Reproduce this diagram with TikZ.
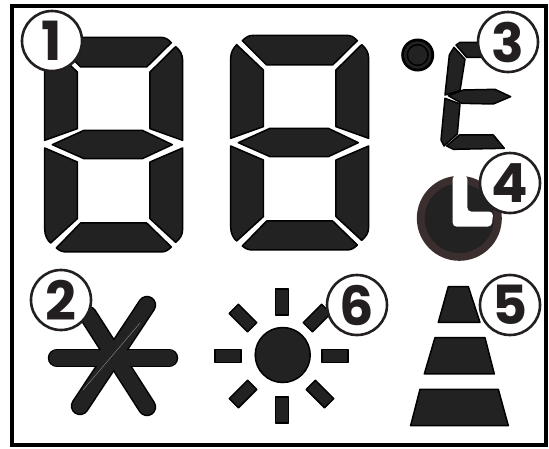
\documentclass[tikz,border=0pt]{standalone}
\usepackage{fontspec}
\setmainfont{Poppins}
\definecolor{segfill}{HTML}{222222}
\definecolor{ringc}{HTML}{231F20}
\definecolor{clockring}{HTML}{3A2E2E}
\tikzset{
  seg/.style={fill=segfill,draw=black,line width=1.5pt,line join=round},
  callout/.style={circle,fill=white,draw=ringc,line width=2.6pt,minimum size=60pt,inner sep=0pt,font=\fontsize{54}{54}\selectfont\bfseries,text=ringc},
  frame/.style={draw=black,line width=4pt},
  zoomed/.style={x=0.3333pt,y=-0.3333pt}
}
\newcommand{\digitsegs}{
  \draw[seg] (97,62) .. controls (108,52) and (115,46) .. (130,46) -- (410,46) .. controls (425,46) and (432,52) .. (442,62) -- (368,135) -- (170,135) -- cycle;
  \draw[seg] (62,355) -- (62,115) .. controls (62,98) and (70,84) .. (80,74) -- (160,150) -- (160,320) -- cycle;
  \draw[seg] (476,355) -- (378,320) -- (378,150) -- (455,74) .. controls (468,84) and (476,98) .. (476,115) -- cycle;
  \draw[seg] (85,368) -- (180,325) -- (355,325) -- (445,368) -- (355,410) -- (180,410) -- cycle;
  \draw[seg] (62,378) -- (160,420) -- (160,590) -- (80,663) .. controls (70,655) and (62,640) .. (62,620) -- cycle;
  \draw[seg] (476,378) -- (378,420) -- (378,590) -- (455,661) .. controls (468,650) and (476,640) .. (476,620) -- cycle;
  \draw[seg] (97,678) -- (170,603) -- (368,603) -- (442,675) .. controls (432,685) and (425,690) .. (410,690) -- (130,690) .. controls (115,690) and (108,687) .. (97,678) -- cycle;
}
\begin{document}
\begin{tikzpicture}[x=1pt,y=-1pt]
\useasboundingbox (0,0) rectangle (549,448);
\fill[white] (0,0) rectangle (549,448);
\draw[frame] (12,5.5) rectangle (546,445);
% digits
\begin{scope}[shift={(24,22)},zoomed]\digitsegs\end{scope}
\begin{scope}[shift={(210,20)},zoomed]\digitsegs\end{scope}
% degree
\fill[black] (417.7,55) circle (16.5);
\draw[segfill,line width=2.5pt] (417.7,55) circle (12.5);
\fill[segfill] (417.7,55) circle (9.5);
% E
\begin{scope}[shift={(380,0)},zoomed]
  \draw[seg] (228,135) -- (240,127) -- (310,127) -- (310,172) -- (260,172) -- cycle;
  \draw[seg] (222,142) -- (255,178) -- (240,272) -- (195,285) -- (208,165) -- cycle;
  \draw[seg] (195,295) -- (240,312) -- (232,402) -- (192,438) -- (183,420) -- cycle;
  \draw[seg] (205,287) -- (250,270) -- (345,268) -- (392,290) -- (340,312) -- (245,310) -- cycle;
  \draw[seg] (200,438) -- (238,405) -- (340,405) -- (373,445) -- (220,448) -- cycle;
  % clock
  \fill[clockring] (238,655) circle (127.5);
  \fill[segfill] (238,655) circle (104);
  \fill[white,rounded corners=4pt] (218,525) -- (262,525) -- (262,635) -- (340,635) -- (335,680) -- (218,680) -- cycle;
\end{scope}
% asterisk
\foreach \a/\b/\c/\d in {57/358/169/358,80/406/147/305,147/407/88/315}{
  \draw[black,line width=18.5pt,line cap=round] (\a,\b) -- (\c,\d);
}
\foreach \a/\b/\c/\d in {57/358/169/358,80/406/147/305,147/407/88/315}{
  \draw[segfill,line width=15.5pt,line cap=round] (\a,\b) -- (\c,\d);
}
\draw[gray,line width=0.5pt] (83,390) -- (140,323);
% sun
\draw[seg] (282.7,355) circle (27.5);
\foreach \x/\y/\r in {282/302/90,282/410/90,228/356/0,335/356/0,243/318/-45,317/318/45,243/394/45,320/394/-45}{
  \draw[seg,rotate around={\r:(\x,\y)}] (\x-13,\y-6.5) rectangle (\x+13,\y+6.5);
}
% cone
\begin{scope}[shift={(200,260)},zoomed]
  \draw[seg] (715,187) -- (745,80) -- (805,80) -- (840,187) -- cycle;
  \draw[seg] (673,342) -- (705,233) -- (855,233) -- (883,342) -- cycle;
  \draw[seg] (632,497) -- (660,388) -- (895,388) -- (925,497) -- cycle;
\end{scope}
% callouts
\node[callout] (n1) at (52,41) {1};
\node[callout] (n2) at (61,300) {2};
\node[callout] (n3) at (508,42) {3};
\node[callout] (n4) at (510,183) {4};
\node[callout] (n5) at (510,305) {5};
\node[callout] (n6) at (357,305) {6};
\end{tikzpicture}
\end{document}
